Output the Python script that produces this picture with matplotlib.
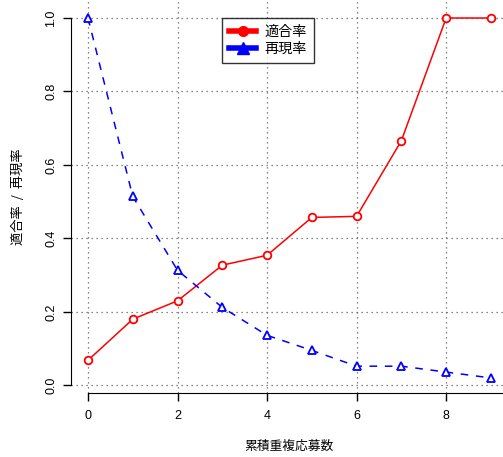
import numpy as np
import matplotlib.pyplot as plt
from matplotlib.lines import Line2D

plt.rcParams['font.family'] = ['Liberation Sans', 'Noto Sans CJK JP', 'DejaVu Sans']

kaisu = [0, 1, 2, 3, 4, 5, 6, 7, 8, 9]
tekigo = [0.068, 0.180, 0.230, 0.327, 0.354, 0.457, 0.460, 0.666, 1.0, 1.0]
saigen = [1.0, 0.514, 0.313, 0.212, 0.136, 0.095, 0.052, 0.052, 0.036, 0.020]
x_ticks = [0, 2, 4, 6, 8]
y_ticks = [0.0, 0.2, 0.4, 0.6, 0.8, 1.0]

W, H = 503, 457
fig = plt.figure(figsize=(W / 100, H / 100), dpi=100)
# axes region in pixels: left 71, bottom 393, right 503, top 0
ax = fig.add_axes([71 / W, (H - 393) / H, (W - 71) / W, 393 / H])
ax.set_xlim(-0.38, 9.27)
ax.set_ylim(-0.021, 1.049)

ax.plot(kaisu, tekigo, color='red', lw=1.1, marker='o', ms=5.5,
        mfc='white', mec='red', mew=1.3, clip_on=False, zorder=3)
ax.plot(kaisu, saigen, color='blue', lw=1.1, ls=(0, (5, 5)), marker='^', ms=6,
        mfc='white', mec='blue', mew=1.3, clip_on=False, zorder=3)

for xv in x_ticks:
    ax.axvline(xv, color='#606060', lw=0.9, ls=(0, (1, 3)), zorder=1)
for yv in y_ticks:
    ax.axhline(yv, color='#606060', lw=0.9, ls=(0, (1, 3)), zorder=1)

for s in ['top', 'right']:
    ax.spines[s].set_visible(False)
ax.spines['left'].set_bounds(0, 1)
ax.spines['bottom'].set_bounds(0, 9.27)
ax.set_xticks(x_ticks)
ax.set_yticks(y_ticks)
ax.set_yticklabels(['0.0', '0.2', '0.4', '0.6', '0.8', '1.0'], rotation=90, va='center')
ax.tick_params(direction='out', length=6, width=1, labelsize=9, pad=4, colors='black')
ax.tick_params(axis='x', pad=6)

fig.text(289 / W, 1 - 446 / H, '累積重複応募数', ha='center', va='center', fontsize=9.2,
         family=['Noto Sans CJK JP'])
fig.text(19 / W, 1 - 197 / H, '適合率  /  再現率', ha='center', va='center', fontsize=9.5,
         rotation=90, family=['Noto Sans CJK JP'])

handles = [Line2D([], [], color='red', lw=4, marker='o', ms=7),
           Line2D([], [], color='blue', lw=4, marker='^', ms=8)]
leg = ax.legend(handles, ['適合率', '再現率'], loc='upper left',
                bbox_to_anchor=((222 - 71) / (W - 71), 1 - 18 / 393),
                frameon=True, fancybox=False, edgecolor='black',
                handlelength=1.9, handletextpad=0.6, borderpad=0.5,
                labelspacing=0.2, borderaxespad=0,
                prop={'family': ['Noto Sans CJK JP'], 'size': 10.2})
leg.get_frame().set_linewidth(1)
leg.set_zorder(5)

fig.savefig('out.png', dpi=100)
